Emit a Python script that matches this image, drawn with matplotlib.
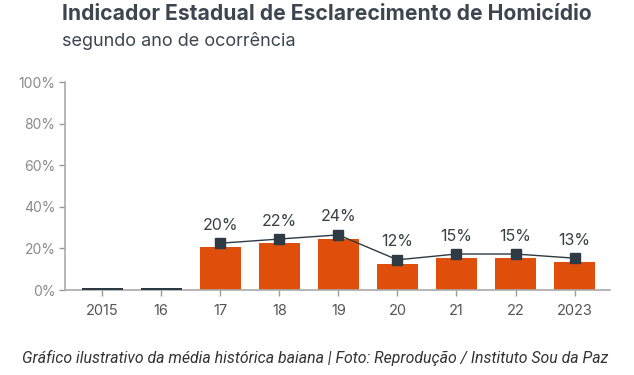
import numpy as np
import matplotlib.pyplot as plt

plt.rcParams['font.family'] = ['Inter', 'DejaVu Sans']

anos = ["2015", "16", "17", "18", "19", "20", "21", "22", "2023"]
indicador = [0, 0, 20.5, 22.7, 24.5, 12.5, 15.2, 15.2, 13.3]
linha = [None, None, 22.5, 24.5, 26.5, 14.5, 17.3, 17.3, 15.3]
rotulos = ["", "", "20%", "22%", "24%", "12%", "15%", "15%", "13%"]

laranja = "#e04e0b"
escuro = "#2e3a44"
cinza = "#9a9a9a"

fig = plt.figure(figsize=(6.34, 3.75), dpi=100)
ax = fig.add_axes([65 / 634, 85 / 375, 545 / 634, 208 / 375])

x = np.arange(len(anos))
for i, v in enumerate(indicador):
    if v == 0:
        # anos sem dado: traço escuro sobre o eixo
        ax.bar(x[i], 1.0, width=0.7, color=escuro, linewidth=0, zorder=3)
    else:
        ax.bar(x[i], v, width=0.7, color=laranja, linewidth=0)

xl = [i for i, v in enumerate(linha) if v is not None]
yl = [linha[i] for i in xl]
ax.plot(xl, yl, color=escuro, lw=1, marker="s", ms=7, zorder=3)

for i in xl:
    ax.text(x[i], linha[i] + 5, rotulos[i], ha="center", va="bottom",
            fontsize=11.5, color="#3a3f45")

ax.set_ylim(0, 100)
ax.set_xlim(-0.63, len(anos) - 0.4)
ax.set_yticks([0, 20, 40, 60, 80, 100])
ax.set_yticklabels(["0%", "20%", "40%", "60%", "80%", "100%"])
ax.set_xticks(x)
ax.set_xticklabels(anos)
ax.tick_params(axis="y", colors=cinza, labelcolor="#8a8a8a", labelsize=10, length=4, width=1, pad=3)
ax.tick_params(axis="x", colors=cinza, labelcolor="#555555", labelsize=10.5, length=4, width=1, pad=6)
for s in ["top", "right"]:
    ax.spines[s].set_visible(False)
for s in ["left", "bottom"]:
    ax.spines[s].set_color("#aaaaaa")
    ax.spines[s].set_linewidth(1.2)

fig.text(62 / 634, 1 - 14 / 375, "Indicador Estadual de Esclarecimento de Homicídio",
         fontsize=15.2, fontweight="bold", color="#3d4650", va="center")
fig.text(62 / 634, 1 - 41 / 375, "segundo ano de ocorrência",
         fontsize=13, color="#3d4650", va="center")
fig.text(22 / 634, 1 - 358 / 375,
         "Gráfico ilustrativo da média histórica baiana | Foto: Reprodução / Instituto Sou da Paz",
         fontsize=11.4, style="italic", color="#333333", va="center",
         family=["Roboto", "DejaVu Sans"])

fig.savefig("out.png", dpi=100)
